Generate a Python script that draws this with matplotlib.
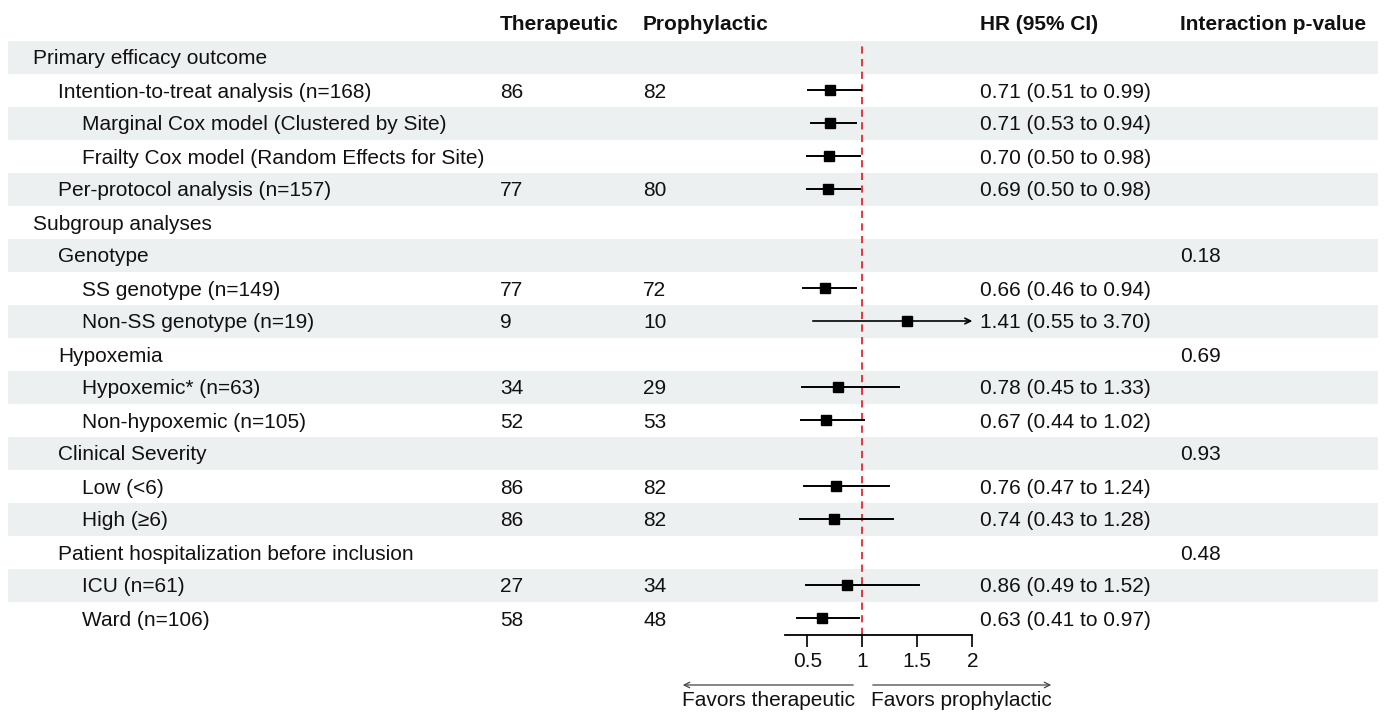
import matplotlib
matplotlib.use("Agg")
import matplotlib.pyplot as plt

plt.rcParams['font.family'] = ['Liberation Sans', 'DejaVu Sans']

labels = ["Primary efficacy outcome",
          "Intention-to-treat analysis (n=168)",
          "Marginal Cox model (Clustered by Site)",
          "Frailty Cox model (Random Effects for Site)",
          "Per-protocol analysis (n=157)",
          "Subgroup analyses",
          "Genotype",
          "SS genotype (n=149)",
          "Non-SS genotype (n=19)",
          "Hypoxemia",
          "Hypoxemic* (n=63)",
          "Non-hypoxemic (n=105)",
          "Clinical Severity",
          "Low (<6)",
          "High (≥6)",
          "Patient hospitalization before inclusion",
          "ICU (n=61)",
          "Ward (n=106)"]
levels = [0, 1, 2, 2, 1, 0, 1, 2, 2, 1, 2, 2, 1, 2, 2, 1, 2, 2]
therapeutic = ["", "86", "", "", "77", "", "", "77", "9", "", "34", "52", "", "86", "86", "", "27", "58"]
prophylactic = ["", "82", "", "", "80", "", "", "72", "10", "", "29", "53", "", "82", "82", "", "34", "48"]
hr = [None, 0.71, 0.71, 0.70, 0.69, None, None, 0.66, 1.41, None, 0.78, 0.67, None, 0.76, 0.74, None, 0.86, 0.63]
lo = [None, 0.51, 0.53, 0.50, 0.50, None, None, 0.46, 0.55, None, 0.45, 0.44, None, 0.47, 0.43, None, 0.49, 0.41]
hi = [None, 0.99, 0.94, 0.98, 0.98, None, None, 0.94, 3.70, None, 1.33, 1.02, None, 1.24, 1.28, None, 1.52, 0.97]
pvals = ["", "", "", "", "", "", "0.18", "", "", "0.69", "", "", "0.93", "", "", "0.48", "", ""]
headers = ["Therapeutic", "Prophylactic", "HR (95% CI)", "Interaction p-value"]
xticks = [0.5, 1, 1.5, 2]
x_max = 2.0

W, H = 1385, 715
fig = plt.figure(figsize=(W / 100, H / 100), dpi=100)
bg = fig.add_axes([0, 0, 1, 1])
bg.set_xlim(0, W)
bg.set_ylim(H, 0)
bg.axis('off')

row0, step = 57, 33
fs = 15
txt = '#111111'
shade = '#edf0f1'
indent = [33, 58, 82]
col_x = [500, 643, 980, 1180]
va = 'center_baseline'

for i, lab in enumerate(labels):
    y = row0 + step * i
    if i % 2 == 0:
        bg.add_patch(plt.Rectangle((8, y - step / 2), 1370, step, color=shade, lw=0, zorder=0))
    bg.text(indent[levels[i]], y, lab, fontsize=fs, va=va, color=txt)
    bg.text(col_x[0], y, therapeutic[i], fontsize=fs, va=va, color=txt)
    bg.text(col_x[1], y, prophylactic[i], fontsize=fs, va=va, color=txt)
    if hr[i] is not None:
        bg.text(col_x[2], y, f"{hr[i]:.2f} ({lo[i]:.2f} to {hi[i]:.2f})",
                fontsize=fs, va=va, color=txt)
    bg.text(col_x[3], y, pvals[i], fontsize=fs, va=va, color=txt)

for x, h in zip(col_x, headers):
    bg.text(x, 22, h, fontsize=fs, fontweight='bold', va=va, color=txt)

# favors arrows
bg.annotate("", xy=(680, 685), xytext=(856, 685),
            arrowprops=dict(arrowstyle='->', lw=0.9, color='#444444'))
bg.annotate("", xy=(1054, 685), xytext=(870, 685),
            arrowprops=dict(arrowstyle='->', lw=0.9, color='#444444'))
bg.text(855, 699, "Favors therapeutic", fontsize=fs, ha='right', va=va, color=txt)
bg.text(871, 699, "Favors prophylactic", fontsize=fs, ha='left', va=va, color=txt)

# forest axes: HR 0 at px 752.3, 110 px per unit
px0, ppu = 752.3, 110.0
x_min = 0.3
left = (px0 + x_min * ppu) / W
right = (px0 + x_max * ppu) / W
top = row0 - step / 2
bot = row0 + step * (len(labels) - 1) + step / 2
ax = fig.add_axes([left, 1 - bot / H, right - left, (bot - top) / H])
ax.patch.set_alpha(0)
ax.set_xlim(x_min, x_max)
ax.set_ylim(len(labels) - 0.5, -0.5)
for s in ['top', 'right', 'left']:
    ax.spines[s].set_visible(False)
ax.spines['bottom'].set_linewidth(1.3)
ax.set_yticks([])
ax.set_xticks(xticks)
ax.set_xticklabels(["0.5", "1", "1.5", "2"])
ax.tick_params(axis='x', length=8.5, width=1.3, labelsize=fs, pad=4, colors=txt)

ax.axvline(1, color='#e8262a', ls=(0, (4, 3)), lw=1.3, zorder=1)

for i in range(len(labels)):
    if hr[i] is None:
        continue
    if hi[i] > x_max:
        ax.annotate("", xy=(x_max, i), xytext=(lo[i], i),
                    arrowprops=dict(arrowstyle='->', lw=1.2, color='black',
                                    shrinkA=0, shrinkB=0), annotation_clip=False)
    else:
        ax.plot([lo[i], hi[i]], [i, i], color='black', lw=1.4, zorder=2, clip_on=False)
    ax.plot(hr[i], i, marker='s', ms=6.8, color='black', zorder=3, clip_on=False)

fig.savefig("out.png", dpi=100)
